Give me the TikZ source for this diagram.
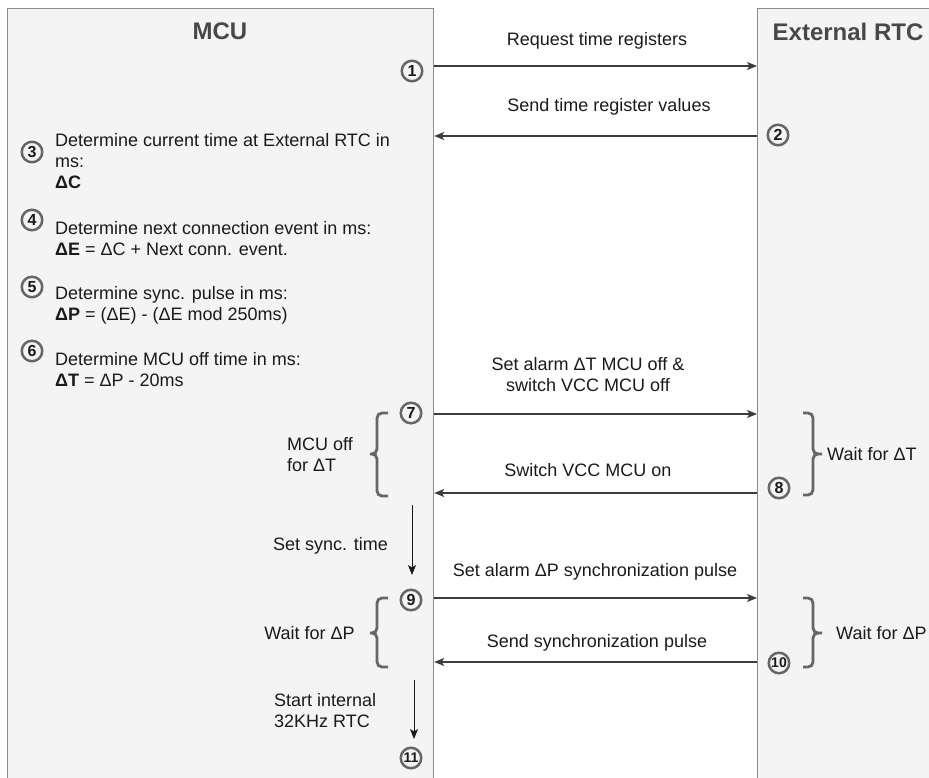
\documentclass[tikz,border=0pt]{standalone}
\usepackage{fontspec}
\setmainfont{Liberation Sans}
\usetikzlibrary{arrows.meta}
\definecolor{lanefill}{HTML}{F4F4F4}
\definecolor{lanedraw}{HTML}{8C8C8C}
\definecolor{marker}{HTML}{666666}
\definecolor{ink}{HTML}{1A1A1A}
\tikzset{
  lane/.style={draw=lanedraw, fill=lanefill, line width=1.2pt, anchor=north west, inner sep=0pt},
  title/.style={font=\fontsize{24}{28}\selectfont\bfseries, text=ink!80, inner sep=0pt},
  txt/.style={font=\fontsize{18}{21}\selectfont, text=ink, inner sep=0pt},
  num/.style={circle, draw=marker, line width=2.5pt, minimum size=20.5pt, inner sep=0pt,
              font=\fontsize{16}{16}\selectfont\bfseries, text=ink},
  msg/.style={draw=ink!85, line width=1.2pt, -{Stealth[length=10pt,width=8pt,inset=2.5pt]}},
  brace/.style={draw=marker, line width=2.8pt, rounded corners=5pt},
}
\begin{document}
\begin{tikzpicture}[x=1pt, y=-1pt]
\useasboundingbox (0,0) rectangle (929,778);

% lanes
\node[lane, minimum width=426pt, minimum height=800pt] (mcu) at (7,8) {};
\node[lane, minimum width=200pt, minimum height=800pt] (rtc) at (757,8) {};
\node[title] (tmcu) at (220,31) {MCU};
\node[title] (trtc) at (848,32) {External RTC};

% step markers
\node[num] (n1) at (412,71) {1};
\node[num] (n2) at (778,135) {2};
\node[num] (n3) at (32,152) {3};
\node[num] (n4) at (32,220) {4};
\node[num] (n5) at (32,287) {5};
\node[num] (n6) at (32,351) {6};
\node[num] (n7) at (411,413) {7};
\node[num] (n8) at (779,488) {8};
\node[num] (n9) at (411,600) {9};
\node[num, font=\fontsize{14}{14}\selectfont\bfseries] (n10) at (779,663) {10};
\node[num, font=\fontsize{14}{14}\selectfont\bfseries] (n11) at (411,758) {11};

% calculation steps inside the MCU
\node[txt, anchor=west, align=left] (s3) at (55,161.5)
  {Determine current time at External RTC in\\ms:\\\textbf{ΔC}};
\node[txt, anchor=west, align=left] (s4) at (55,238.5)
  {Determine next connection event in ms:\\\textbf{ΔE} = ΔC + Next conn. event.};
\node[txt, anchor=west, align=left] (s5) at (55,305.5)
  {Determine sync. pulse in ms:\\\textbf{ΔP} = (ΔE) - (ΔE mod 250ms)};
\node[txt, anchor=west, align=left] (s6) at (55,369.5)
  {Determine MCU off time in ms:\\\textbf{ΔT} = ΔP - 20ms};

% message end points on the lane borders
\coordinate (m1a) at (mcu.east |- 0,66);   \coordinate (m1b) at (rtc.west |- 0,66);
\coordinate (m2a) at (rtc.west |- 0,136);  \coordinate (m2b) at (mcu.east |- 0,136);
\coordinate (m7a) at (mcu.east |- 0,414);  \coordinate (m7b) at (rtc.west |- 0,414);
\coordinate (m8a) at (rtc.west |- 0,493);  \coordinate (m8b) at (mcu.east |- 0,493);
\coordinate (m9a) at (mcu.east |- 0,598);  \coordinate (m9b) at (rtc.west |- 0,598);
\coordinate (m10a) at (rtc.west |- 0,662); \coordinate (m10b) at (mcu.east |- 0,662);

\draw[msg] (m1a) -- (m1b);
\draw[msg] (m2a) -- (m2b);
\draw[msg] (m7a) -- (m7b);
\draw[msg] (m8a) -- (m8b);
\draw[msg] (m9a) -- (m9b);
\draw[msg] (m10a) -- (m10b);

\node[txt] (l1) at (597,41) {Request time registers};
\node[txt] (l2) at (609,107) {Send time register values};
\node[txt, align=center] (l7) at (588,374.5) {Set alarm ΔT MCU off \&\\switch VCC MCU off};
\node[txt] (l8) at (588,470) {Switch VCC MCU on};
\node[txt] (l9) at (595,572) {Set alarm ΔP synchronization pulse};
\node[txt] (l10) at (597,643) {Send synchronization pulse};

% waiting periods
\draw[brace] (388,413) -- (377,413) -- (377,454) -- (367,454) -- (377,454) -- (377,496) -- (388,496);
\draw[brace] (803,413) -- (813,413) -- (813,454) -- (825,454) -- (813,454) -- (813,495) -- (803,495);
\draw[brace] (388,598) -- (377,598) -- (377,633) -- (367,633) -- (377,633) -- (377,667) -- (388,667);
\draw[brace] (803,598) -- (813,598) -- (813,633) -- (825,633) -- (813,633) -- (813,667) -- (803,667);

\node[txt, anchor=west, align=left] (w7) at (287,454.5) {MCU off\\for ΔT};
\node[txt, anchor=west] (w8) at (827,454) {Wait for ΔT};
\node[txt] (w9) at (309.5,633) {Wait for ΔP};
\node[txt, anchor=west] (w10) at (836,633) {Wait for ΔP};

% internal MCU transitions
\coordinate (d1a) at (412,505); \coordinate (d1b) at (412,575);
\coordinate (d2a) at (414,680); \coordinate (d2b) at (414,739);
\draw[msg, draw=ink, line width=1pt] (d1a) -- (d1b);
\draw[msg, draw=ink, line width=1pt] (d2a) -- (d2b);
\node[txt] (t1) at (330.5,546) {Set sync. time};
\node[txt, anchor=west, align=left] (t2) at (274,711) {Start internal\\32KHz RTC};
\end{tikzpicture}
\end{document}
